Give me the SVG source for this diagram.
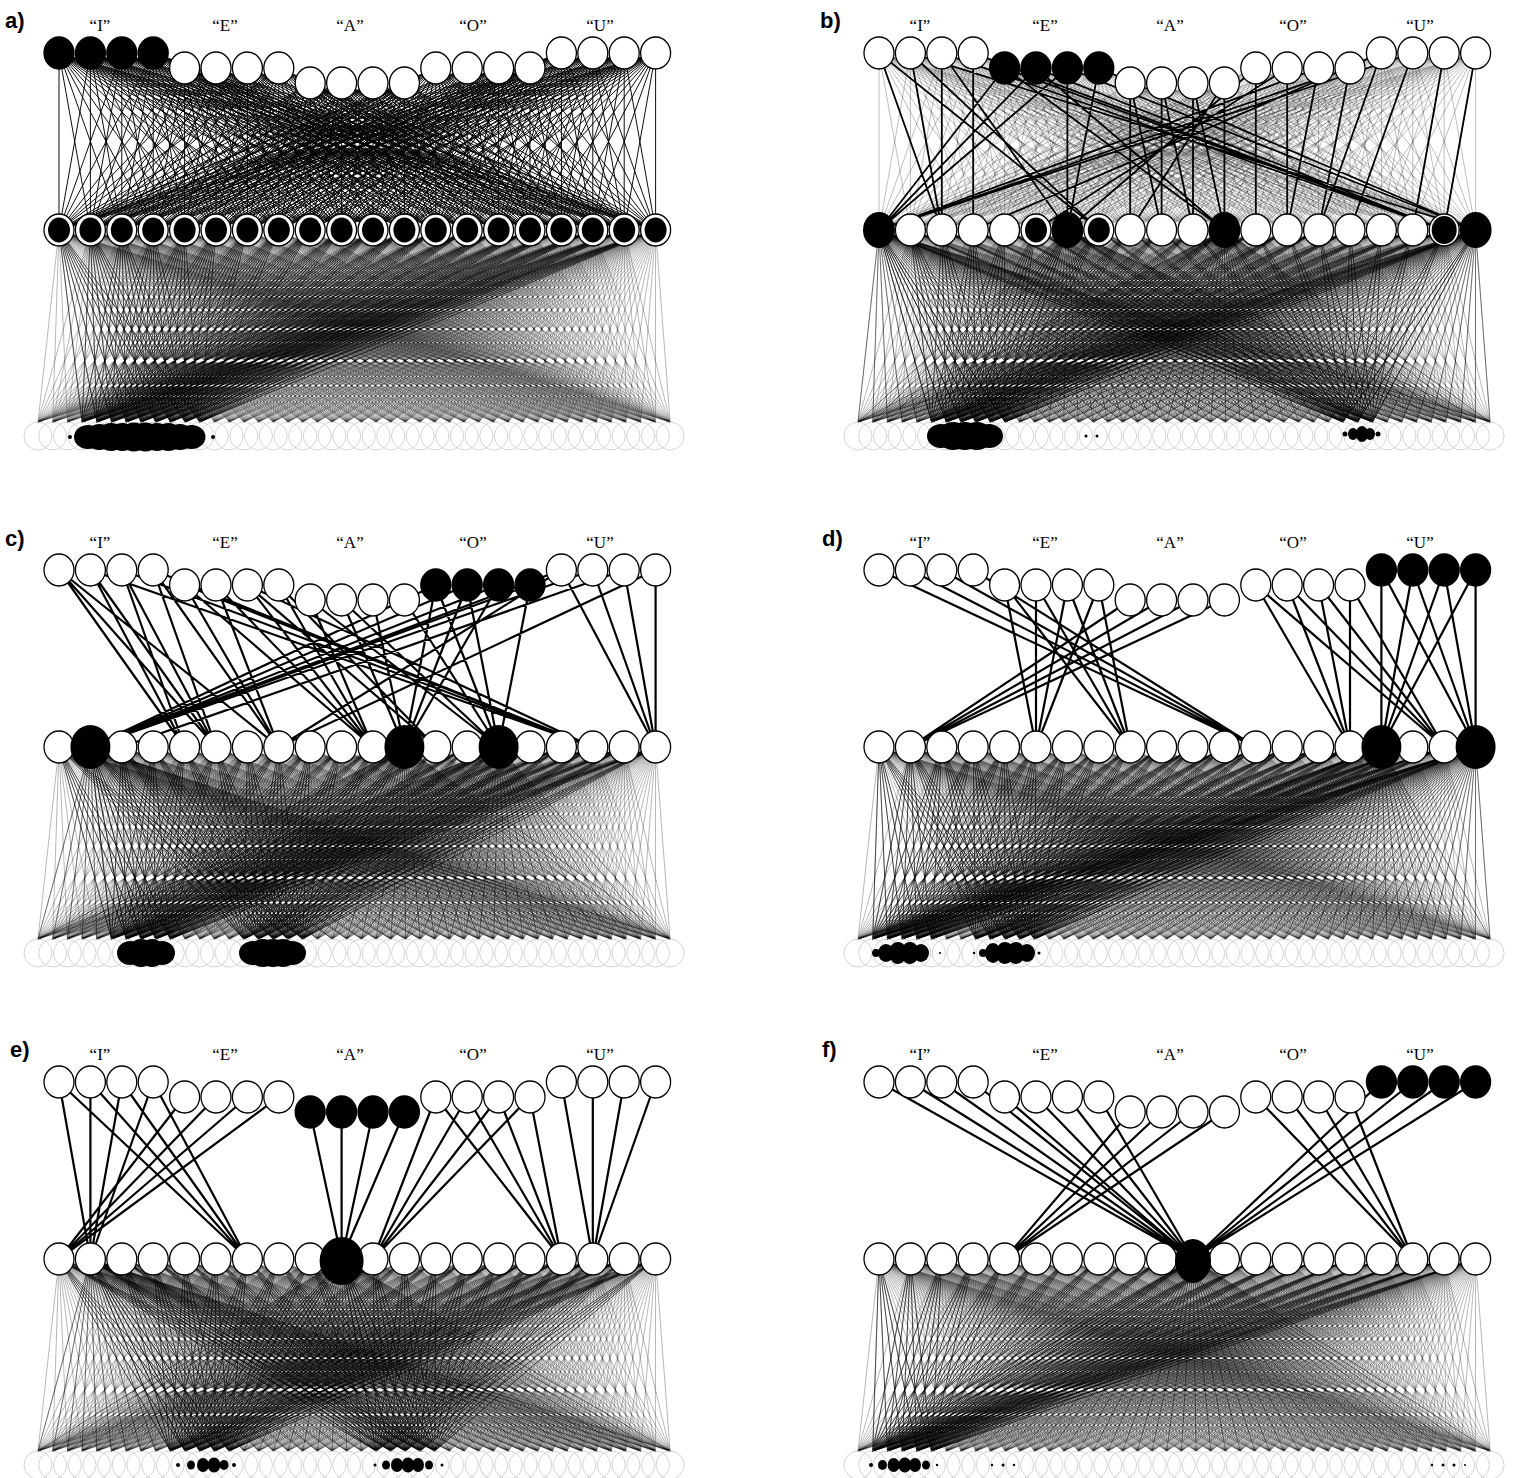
<svg xmlns="http://www.w3.org/2000/svg" width="1516" height="1478" viewBox="0 0 1516 1478">
<style>
.v{fill:none;vector-effect:non-scaling-stroke}
.w{fill:#fff;stroke:#000;stroke-width:1.3px;rx:15px;ry:16px}
.k{fill:#000;stroke:#000;stroke-width:1.3px;rx:15px;ry:16px}
.kb{fill:#000;rx:16px;ry:18px}
.K{fill:#000;rx:20px;ry:22px}
.KE{fill:#000;rx:22px;ry:24px}
.ki{fill:#000;rx:11px;ry:12.5px}
.kr{fill:#000;rx:12.5px;ry:14px}
.o{fill:none;stroke:#c8c8c8;stroke-width:.8px;rx:14px;ry:14px}
.d{fill:#000}
.mg{stroke:#000;stroke-opacity:.38;stroke-width:.75px}
.md{stroke:#000;stroke-opacity:.72;stroke-width:.85px}
.mx{stroke:#000;stroke-opacity:.45;stroke-width:.9px}
.mf{stroke:#000;stroke-opacity:1;stroke-width:.95px}
.ml{stroke:#000;stroke-opacity:.35;stroke-width:.75px}
.th{fill:none;stroke:#000;stroke-width:2.2px;stroke-linecap:round}
.tb{fill:none;stroke:#000;stroke-width:1.8px;stroke-linecap:round}
.q{font-family:"Liberation Serif",serif;font-size:17px;text-anchor:middle}
.p{font-family:"Liberation Sans",sans-serif;font-size:22px;font-weight:bold}
</style>
<defs>
<path id="u" class="v" d="M38 422L59 230M38 422L90.4 230M38 422L121.8 230M38 422L153.2 230M38 422L184.6 230M38 422L216 230M38 422L247.4 230M38 422L278.8 230M38 422L310.2 230M38 422L341.6 230M38 422L373 230M38 422L404.4 230M38 422L435.8 230M38 422L467.2 230M38 422L498.6 230M38 422L530 230M38 422L561.4 230M38 422L592.8 230M38 422L624.2 230M38 422L655.6 230"/>
<path id="t" class="v" d="M59 53L59 230M59 53L90.4 230M59 53L121.8 230M59 53L153.2 230M59 53L184.6 230M59 53L216 230M59 53L247.4 230M59 53L278.8 230M59 53L310.2 230M59 53L341.6 230M59 53L373 230M59 53L404.4 230M59 53L435.8 230M59 53L467.2 230M59 53L498.6 230M59 53L530 230M59 53L561.4 230M59 53L592.8 230M59 53L624.2 230M59 53L655.6 230"/>
<path id="m" class="v" d="M59 230L38 422M59 230L52.7 422M59 230L67.4 422M59 230L82.1 422M59 230L96.8 422M59 230L111.5 422M59 230L126.2 422M59 230L140.9 422M59 230L155.6 422M59 230L170.3 422M59 230L185 422M59 230L199.7 422M59 230L214.4 422M59 230L229.1 422M59 230L243.8 422M59 230L258.5 422M59 230L273.2 422M59 230L287.9 422M59 230L302.6 422M59 230L317.3 422M59 230L332 422M59 230L346.7 422M59 230L361.4 422M59 230L376.1 422M59 230L390.8 422M59 230L405.5 422M59 230L420.2 422M59 230L434.9 422M59 230L449.6 422M59 230L464.3 422M59 230L479 422M59 230L493.7 422M59 230L508.4 422M59 230L523.1 422M59 230L537.8 422M59 230L552.5 422M59 230L567.2 422M59 230L581.9 422M59 230L596.6 422M59 230L611.3 422M59 230L626 422M59 230L640.7 422M59 230L655.4 422M59 230L670.1 422"/>
<g id="MB">
<use id="B0" href="#u"/>
<use id="B1" href="#u" transform="matrix(1 0 .0766 1 -17.61 0)"/>
<use id="B2" href="#u" transform="matrix(1 0 .1531 1 -35.22 0)"/>
<use id="B3" href="#u" transform="matrix(1 0 .2297 1 -52.83 0)"/>
<use id="B4" href="#u" transform="matrix(1 0 .3063 1 -70.44 0)"/>
<use id="B5" href="#u" transform="matrix(1 0 .3828 1 -88.05 0)"/>
<use id="B6" href="#u" transform="matrix(1 0 .4594 1 -105.66 0)"/>
<use id="B7" href="#u" transform="matrix(1 0 .5359 1 -123.27 0)"/>
<use id="B8" href="#u" transform="matrix(1 0 .6125 1 -140.88 0)"/>
<use id="B9" href="#u" transform="matrix(1 0 .6891 1 -158.48 0)"/>
<use id="B10" href="#u" transform="matrix(1 0 .7656 1 -176.09 0)"/>
<use id="B11" href="#u" transform="matrix(1 0 .8422 1 -193.7 0)"/>
<use id="B12" href="#u" transform="matrix(1 0 .9188 1 -211.31 0)"/>
<use id="B13" href="#u" transform="matrix(1 0 .9953 1 -228.92 0)"/>
<use id="B14" href="#u" transform="matrix(1 0 1.0719 1 -246.53 0)"/>
<use id="B15" href="#u" transform="matrix(1 0 1.1484 1 -264.14 0)"/>
<use id="B16" href="#u" transform="matrix(1 0 1.225 1 -281.75 0)"/>
<use id="B17" href="#u" transform="matrix(1 0 1.3016 1 -299.36 0)"/>
<use id="B18" href="#u" transform="matrix(1 0 1.3781 1 -316.97 0)"/>
<use id="B19" href="#u" transform="matrix(1 0 1.4547 1 -334.58 0)"/>
<use id="B20" href="#u" transform="matrix(1 0 1.5313 1 -352.19 0)"/>
<use id="B21" href="#u" transform="matrix(1 0 1.6078 1 -369.8 0)"/>
<use id="B22" href="#u" transform="matrix(1 0 1.6844 1 -387.41 0)"/>
<use id="B23" href="#u" transform="matrix(1 0 1.7609 1 -405.02 0)"/>
<use id="B24" href="#u" transform="matrix(1 0 1.8375 1 -422.63 0)"/>
<use id="B25" href="#u" transform="matrix(1 0 1.9141 1 -440.23 0)"/>
<use id="B26" href="#u" transform="matrix(1 0 1.9906 1 -457.84 0)"/>
<use id="B27" href="#u" transform="matrix(1 0 2.0672 1 -475.45 0)"/>
<use id="B28" href="#u" transform="matrix(1 0 2.1438 1 -493.06 0)"/>
<use id="B29" href="#u" transform="matrix(1 0 2.2203 1 -510.67 0)"/>
<use id="B30" href="#u" transform="matrix(1 0 2.2969 1 -528.28 0)"/>
<use id="B31" href="#u" transform="matrix(1 0 2.3734 1 -545.89 0)"/>
<use id="B32" href="#u" transform="matrix(1 0 2.45 1 -563.5 0)"/>
<use id="B33" href="#u" transform="matrix(1 0 2.5266 1 -581.11 0)"/>
<use id="B34" href="#u" transform="matrix(1 0 2.6031 1 -598.72 0)"/>
<use id="B35" href="#u" transform="matrix(1 0 2.6797 1 -616.33 0)"/>
<use id="B36" href="#u" transform="matrix(1 0 2.7563 1 -633.94 0)"/>
<use id="B37" href="#u" transform="matrix(1 0 2.8328 1 -651.55 0)"/>
<use id="B38" href="#u" transform="matrix(1 0 2.9094 1 -669.16 0)"/>
<use id="B39" href="#u" transform="matrix(1 0 2.9859 1 -686.77 0)"/>
<use id="B40" href="#u" transform="matrix(1 0 3.0625 1 -704.38 0)"/>
<use id="B41" href="#u" transform="matrix(1 0 3.1391 1 -721.98 0)"/>
<use id="B42" href="#u" transform="matrix(1 0 3.2156 1 -739.59 0)"/>
<use id="B43" href="#u" transform="matrix(1 0 3.2922 1 -757.2 0)"/>
</g>
<g id="TM">
<use href="#t"/>
<use href="#t" transform="matrix(1 0 -.1774 1 40.8 0)"/>
<use href="#t" transform="matrix(1 0 -.3548 1 81.6 0)"/>
<use href="#t" transform="matrix(1 0 -.5322 1 122.41 0)"/>
<use href="#t" transform="matrix(1 0 -.7096 .91525 163.21 19.49)"/>
<use href="#t" transform="matrix(1 0 -.887 .91525 204.01 19.49)"/>
<use href="#t" transform="matrix(1 0 -1.0644 .91525 244.81 19.49)"/>
<use href="#t" transform="matrix(1 0 -1.2418 .91525 285.62 19.49)"/>
<use href="#t" transform="matrix(1 0 -1.4192 .83051 326.42 38.98)"/>
<use href="#t" transform="matrix(1 0 -1.5966 .83051 367.22 38.98)"/>
<use href="#t" transform="matrix(1 0 -1.774 .83051 408.02 38.98)"/>
<use href="#t" transform="matrix(1 0 -1.9514 .83051 448.83 38.98)"/>
<use href="#t" transform="matrix(1 0 -2.1288 .91525 489.63 19.49)"/>
<use href="#t" transform="matrix(1 0 -2.3062 .91525 530.43 19.49)"/>
<use href="#t" transform="matrix(1 0 -2.4836 .91525 571.23 19.49)"/>
<use href="#t" transform="matrix(1 0 -2.661 .91525 612.04 19.49)"/>
<use href="#t" transform="matrix(1 0 -2.8384 1 652.84 0)"/>
<use href="#t" transform="matrix(1 0 -3.0158 1 693.64 0)"/>
<use href="#t" transform="matrix(1 0 -3.1932 1 734.44 0)"/>
<use href="#t" transform="matrix(1 0 -3.3706 1 775.24 0)"/>
</g>
<use id="M0" href="#m"/>
<use id="M1" href="#m" transform="matrix(1 0 -.1635 1 69.01 0)"/>
<use id="M6" href="#m" transform="matrix(1 0 -.9813 1 414.08 0)"/>
<use id="M9" href="#m" transform="matrix(1 0 -1.4719 1 621.11 0)"/>
<use id="M10" href="#m" transform="matrix(1 0 -1.6354 1 690.13 0)"/>
<use id="M11" href="#m" transform="matrix(1 0 -1.799 1 759.14 0)"/>
<use id="M14" href="#m" transform="matrix(1 0 -2.2896 1 966.18 0)"/>
<use id="M16" href="#m" transform="matrix(1 0 -2.6167 1 1104.2 0)"/>
<use id="M19" href="#m" transform="matrix(1 0 -3.1073 1 1311.24 0)"/>
<g id="outrow">
<ellipse class="o" cx="38" cy="436"/><ellipse class="o" cx="52.7" cy="436"/><ellipse class="o" cx="67.4" cy="436"/><ellipse class="o" cx="82.1" cy="436"/><ellipse class="o" cx="96.8" cy="436"/><ellipse class="o" cx="111.5" cy="436"/><ellipse class="o" cx="126.2" cy="436"/><ellipse class="o" cx="140.9" cy="436"/><ellipse class="o" cx="155.6" cy="436"/><ellipse class="o" cx="170.3" cy="436"/><ellipse class="o" cx="185" cy="436"/><ellipse class="o" cx="199.7" cy="436"/><ellipse class="o" cx="214.4" cy="436"/><ellipse class="o" cx="229.1" cy="436"/><ellipse class="o" cx="243.8" cy="436"/><ellipse class="o" cx="258.5" cy="436"/><ellipse class="o" cx="273.2" cy="436"/><ellipse class="o" cx="287.9" cy="436"/><ellipse class="o" cx="302.6" cy="436"/><ellipse class="o" cx="317.3" cy="436"/><ellipse class="o" cx="332" cy="436"/><ellipse class="o" cx="346.7" cy="436"/><ellipse class="o" cx="361.4" cy="436"/><ellipse class="o" cx="376.1" cy="436"/><ellipse class="o" cx="390.8" cy="436"/><ellipse class="o" cx="405.5" cy="436"/><ellipse class="o" cx="420.2" cy="436"/><ellipse class="o" cx="434.9" cy="436"/><ellipse class="o" cx="449.6" cy="436"/><ellipse class="o" cx="464.3" cy="436"/><ellipse class="o" cx="479" cy="436"/><ellipse class="o" cx="493.7" cy="436"/><ellipse class="o" cx="508.4" cy="436"/><ellipse class="o" cx="523.1" cy="436"/><ellipse class="o" cx="537.8" cy="436"/><ellipse class="o" cx="552.5" cy="436"/><ellipse class="o" cx="567.2" cy="436"/><ellipse class="o" cx="581.9" cy="436"/><ellipse class="o" cx="596.6" cy="436"/><ellipse class="o" cx="611.3" cy="436"/><ellipse class="o" cx="626" cy="436"/><ellipse class="o" cx="640.7" cy="436"/><ellipse class="o" cx="655.4" cy="436"/><ellipse class="o" cx="670.1" cy="436"/>
</g>
</defs>
<rect width="1516" height="1478" fill="#fff"/>

<!-- ===== Panel a ===== -->
<g id="panel-a">
<g id="a-connectors">
<use href="#MB" class="mg"/>
<g class="md"><use href="#B3"/><use href="#B4"/><use href="#B5"/><use href="#B6"/><use href="#B7"/><use href="#B8"/><use href="#B9"/><use href="#B10"/><use href="#B11"/></g>
<use href="#TM" class="mf"/>
</g>
<g id="a-output"><use href="#outrow"/>
<g class="d"><ellipse cx="70" cy="437" rx="2" ry="2"/><ellipse cx="88" cy="437" rx="14" ry="12"/><ellipse cx="99.5" cy="437" rx="14" ry="13"/><ellipse cx="111" cy="437" rx="14" ry="14"/><ellipse cx="122.5" cy="437" rx="14" ry="14"/><ellipse cx="134" cy="437" rx="14" ry="14.5"/><ellipse cx="145.5" cy="437" rx="14" ry="14.5"/><ellipse cx="157" cy="437" rx="14" ry="14"/><ellipse cx="168.5" cy="437" rx="14" ry="14"/><ellipse cx="180" cy="437" rx="14" ry="13"/><ellipse cx="191.5" cy="437" rx="14" ry="12"/><ellipse cx="213" cy="437" rx="2" ry="2"/></g></g>
<g id="a-h0"><ellipse class="w" cx="59" cy="230"/><ellipse class="ki" cx="59" cy="230"/></g>
<g id="a-h1"><ellipse class="w" cx="90.4" cy="230"/><ellipse class="ki" cx="90.4" cy="230"/></g>
<g id="a-h2"><ellipse class="w" cx="121.8" cy="230"/><ellipse class="ki" cx="121.8" cy="230"/></g>
<g id="a-h3"><ellipse class="w" cx="153.2" cy="230"/><ellipse class="ki" cx="153.2" cy="230"/></g>
<g id="a-h4"><ellipse class="w" cx="184.6" cy="230"/><ellipse class="ki" cx="184.6" cy="230"/></g>
<g id="a-h5"><ellipse class="w" cx="216" cy="230"/><ellipse class="ki" cx="216" cy="230"/></g>
<g id="a-h6"><ellipse class="w" cx="247.4" cy="230"/><ellipse class="ki" cx="247.4" cy="230"/></g>
<g id="a-h7"><ellipse class="w" cx="278.8" cy="230"/><ellipse class="ki" cx="278.8" cy="230"/></g>
<g id="a-h8"><ellipse class="w" cx="310.2" cy="230"/><ellipse class="ki" cx="310.2" cy="230"/></g>
<g id="a-h9"><ellipse class="w" cx="341.6" cy="230"/><ellipse class="ki" cx="341.6" cy="230"/></g>
<g id="a-h10"><ellipse class="w" cx="373" cy="230"/><ellipse class="ki" cx="373" cy="230"/></g>
<g id="a-h11"><ellipse class="w" cx="404.4" cy="230"/><ellipse class="ki" cx="404.4" cy="230"/></g>
<g id="a-h12"><ellipse class="w" cx="435.8" cy="230"/><ellipse class="ki" cx="435.8" cy="230"/></g>
<g id="a-h13"><ellipse class="w" cx="467.2" cy="230"/><ellipse class="ki" cx="467.2" cy="230"/></g>
<g id="a-h14"><ellipse class="w" cx="498.6" cy="230"/><ellipse class="ki" cx="498.6" cy="230"/></g>
<g id="a-h15"><ellipse class="w" cx="530" cy="230"/><ellipse class="ki" cx="530" cy="230"/></g>
<g id="a-h16"><ellipse class="w" cx="561.4" cy="230"/><ellipse class="ki" cx="561.4" cy="230"/></g>
<g id="a-h17"><ellipse class="w" cx="592.8" cy="230"/><ellipse class="ki" cx="592.8" cy="230"/></g>
<g id="a-h18"><ellipse class="w" cx="624.2" cy="230"/><ellipse class="ki" cx="624.2" cy="230"/></g>
<g id="a-h19"><ellipse class="w" cx="655.6" cy="230"/><ellipse class="ki" cx="655.6" cy="230"/></g>
<g id="a-i0"><ellipse class="k" cx="59" cy="53"/></g>
<g id="a-i1"><ellipse class="k" cx="90.4" cy="53"/></g>
<g id="a-i2"><ellipse class="k" cx="121.8" cy="53"/></g>
<g id="a-i3"><ellipse class="k" cx="153.2" cy="53"/></g>
<g id="a-i4"><ellipse class="w" cx="184.6" cy="68"/></g>
<g id="a-i5"><ellipse class="w" cx="216" cy="68"/></g>
<g id="a-i6"><ellipse class="w" cx="247.4" cy="68"/></g>
<g id="a-i7"><ellipse class="w" cx="278.8" cy="68"/></g>
<g id="a-i8"><ellipse class="w" cx="310.2" cy="83"/></g>
<g id="a-i9"><ellipse class="w" cx="341.6" cy="83"/></g>
<g id="a-i10"><ellipse class="w" cx="373" cy="83"/></g>
<g id="a-i11"><ellipse class="w" cx="404.4" cy="83"/></g>
<g id="a-i12"><ellipse class="w" cx="435.8" cy="68"/></g>
<g id="a-i13"><ellipse class="w" cx="467.2" cy="68"/></g>
<g id="a-i14"><ellipse class="w" cx="498.6" cy="68"/></g>
<g id="a-i15"><ellipse class="w" cx="530" cy="68"/></g>
<g id="a-i16"><ellipse class="w" cx="561.4" cy="53"/></g>
<g id="a-i17"><ellipse class="w" cx="592.8" cy="53"/></g>
<g id="a-i18"><ellipse class="w" cx="624.2" cy="53"/></g>
<g id="a-i19"><ellipse class="w" cx="655.6" cy="53"/></g>
<text class="p" x="5" y="28">a)</text>
<text class="q" x="100" y="31">“I”</text><text class="q" x="225" y="31">“E”</text><text class="q" x="350" y="31">“A”</text><text class="q" x="473" y="31">“O”</text><text class="q" x="600" y="31">“U”</text>
</g>

<!-- ===== Panel b ===== -->
<g id="panel-b" transform="translate(820 0)">
<g id="b-connectors">
<use href="#MB" class="mg"/>
<g class="md"><use href="#B5"/><use href="#B6"/><use href="#B7"/><use href="#B8"/><use href="#B9"/><use href="#B10"/><use href="#B33"/><use href="#B34"/><use href="#B35"/></g>
<g class="mx"><use href="#M0"/><use href="#M6"/><use href="#M11"/><use href="#M19"/></g>
<use href="#TM" class="ml"/>
<path class="tb" d="M59 53L121.8 230M59 53L278.8 230M90.4 53L121.8 230M90.4 53L278.8 230M121.8 53L121.8 230M121.8 53L624.2 230M153.2 53L153.2 230M153.2 53L624.2 230M90.4 53L655.6 230M121.8 53L247.4 230M184.6 68L59 230M184.6 68L404.4 230M184.6 68L624.2 230M216 68L59 230M216 68L404.4 230M216 68L624.2 230M247.4 68L247.4 230M247.4 68L655.6 230M247.4 68L59 230M278.8 68L247.4 230M278.8 68L655.6 230M310.2 83L310.2 230M310.2 83L341.6 230M341.6 83L341.6 230M341.6 83L373 230M373 83L373 230M373 83L404.4 230M404.4 83L404.4 230M404.4 83L310.2 230M435.8 68L435.8 230M435.8 68L247.4 230M467.2 68L467.2 230M467.2 68L216 230M498.6 68L467.2 230M498.6 68L59 230M530 68L498.6 230M530 68L59 230M561.4 53L498.6 230M561.4 53L153.2 230M592.8 53L530 230M592.8 53L59 230M624.2 53L592.8 230M655.6 53L624.2 230"/>
</g>
<g id="b-output"><use href="#outrow"/>
<g class="d"><ellipse cx="121" cy="436" rx="14" ry="12"/><ellipse cx="133" cy="436" rx="15" ry="14"/><ellipse cx="145" cy="436" rx="15" ry="14"/><ellipse cx="157" cy="436" rx="15" ry="14"/><ellipse cx="169" cy="436" rx="14" ry="12"/><ellipse cx="266" cy="436" rx="1.5" ry="1.5"/><ellipse cx="277" cy="436" rx="1.5" ry="1.5"/><ellipse cx="525" cy="434" rx="2.5" ry="2.5"/><ellipse cx="533" cy="434" rx="5" ry="6"/><ellipse cx="542" cy="434" rx="6" ry="8"/><ellipse cx="550" cy="434" rx="5" ry="6"/><ellipse cx="558" cy="434" rx="2.5" ry="2.5"/></g></g>
<g id="b-h1"><ellipse class="w" cx="90.4" cy="230"/></g>
<g id="b-h2"><ellipse class="w" cx="121.8" cy="230"/></g>
<g id="b-h3"><ellipse class="w" cx="153.2" cy="230"/></g>
<g id="b-h4"><ellipse class="w" cx="184.6" cy="230"/></g>
<g id="b-h5"><ellipse class="w" cx="216" cy="230"/><ellipse class="ki" cx="216" cy="230"/></g>
<g id="b-h7"><ellipse class="w" cx="278.8" cy="230"/><ellipse class="ki" cx="278.8" cy="230"/></g>
<g id="b-h8"><ellipse class="w" cx="310.2" cy="230"/></g>
<g id="b-h9"><ellipse class="w" cx="341.6" cy="230"/></g>
<g id="b-h10"><ellipse class="w" cx="373" cy="230"/></g>
<g id="b-h12"><ellipse class="w" cx="435.8" cy="230"/></g>
<g id="b-h13"><ellipse class="w" cx="467.2" cy="230"/></g>
<g id="b-h14"><ellipse class="w" cx="498.6" cy="230"/></g>
<g id="b-h15"><ellipse class="w" cx="530" cy="230"/></g>
<g id="b-h16"><ellipse class="w" cx="561.4" cy="230"/></g>
<g id="b-h17"><ellipse class="w" cx="592.8" cy="230"/></g>
<g id="b-h18"><ellipse class="w" cx="624.2" cy="230"/><ellipse class="kr" cx="624.2" cy="230"/></g>
<g id="b-h0"><ellipse class="kb" cx="59" cy="230"/></g>
<g id="b-h6"><ellipse class="kb" cx="247.4" cy="230"/></g>
<g id="b-h11"><ellipse class="kb" cx="404.4" cy="230"/></g>
<g id="b-h19"><ellipse class="kb" cx="655.6" cy="230"/></g>
<g id="b-i0"><ellipse class="w" cx="59" cy="53"/></g>
<g id="b-i1"><ellipse class="w" cx="90.4" cy="53"/></g>
<g id="b-i2"><ellipse class="w" cx="121.8" cy="53"/></g>
<g id="b-i3"><ellipse class="w" cx="153.2" cy="53"/></g>
<g id="b-i4"><ellipse class="k" cx="184.6" cy="68"/></g>
<g id="b-i5"><ellipse class="k" cx="216" cy="68"/></g>
<g id="b-i6"><ellipse class="k" cx="247.4" cy="68"/></g>
<g id="b-i7"><ellipse class="k" cx="278.8" cy="68"/></g>
<g id="b-i8"><ellipse class="w" cx="310.2" cy="83"/></g>
<g id="b-i9"><ellipse class="w" cx="341.6" cy="83"/></g>
<g id="b-i10"><ellipse class="w" cx="373" cy="83"/></g>
<g id="b-i11"><ellipse class="w" cx="404.4" cy="83"/></g>
<g id="b-i12"><ellipse class="w" cx="435.8" cy="68"/></g>
<g id="b-i13"><ellipse class="w" cx="467.2" cy="68"/></g>
<g id="b-i14"><ellipse class="w" cx="498.6" cy="68"/></g>
<g id="b-i15"><ellipse class="w" cx="530" cy="68"/></g>
<g id="b-i16"><ellipse class="w" cx="561.4" cy="53"/></g>
<g id="b-i17"><ellipse class="w" cx="592.8" cy="53"/></g>
<g id="b-i18"><ellipse class="w" cx="624.2" cy="53"/></g>
<g id="b-i19"><ellipse class="w" cx="655.6" cy="53"/></g>
<text class="p" x="0" y="28">b)</text>
<text class="q" x="100" y="31">“I”</text><text class="q" x="225" y="31">“E”</text><text class="q" x="350" y="31">“A”</text><text class="q" x="473" y="31">“O”</text><text class="q" x="600" y="31">“U”</text>
</g>

<!-- ===== Panel c ===== -->
<g id="panel-c" transform="translate(0 517)">
<g id="c-connectors">
<use href="#MB" class="mg"/>
<g class="md"><use href="#B5"/><use href="#B6"/><use href="#B7"/><use href="#B8"/><use href="#B9"/><use href="#B14"/><use href="#B15"/><use href="#B16"/><use href="#B17"/><use href="#B18"/></g>
<g class="mx"><use href="#M1"/><use href="#M11"/><use href="#M14"/></g>
<path class="th" d="M59 53L184.6 230M59 53L216 230M59 53L278.8 230M90.4 53L184.6 230M90.4 53L216 230M90.4 53L592.8 230M121.8 53L184.6 230M121.8 53L216 230M121.8 53L592.8 230M153.2 53L216 230M153.2 53L278.8 230M153.2 53L592.8 230M184.6 68L278.8 230M184.6 68L373 230M184.6 68L592.8 230M216 68L278.8 230M216 68L373 230M247.4 68L373 230M247.4 68L435.8 230M247.4 68L592.8 230M278.8 68L373 230M278.8 68L435.8 230M310.2 83L373 230M310.2 83L498.6 230M341.6 83L404.4 230M341.6 83L498.6 230M373 83L404.4 230M404.4 83L498.6 230M435.8 68L90.4 230M435.8 68L404.4 230M435.8 68L498.6 230M467.2 68L90.4 230M467.2 68L404.4 230M467.2 68L498.6 230M498.6 68L90.4 230M498.6 68L404.4 230M530 68L90.4 230M530 68L498.6 230M561.4 53L90.4 230M561.4 53L278.8 230M561.4 53L655.6 230M592.8 53L90.4 230M592.8 53L655.6 230M624.2 53L121.8 230M624.2 53L655.6 230M655.6 53L655.6 230M655.6 53L278.8 230"/>
</g>
<g id="c-output"><use href="#outrow"/>
<g class="d"><ellipse cx="130" cy="436" rx="13" ry="12"/><ellipse cx="141" cy="436" rx="13" ry="14"/><ellipse cx="152" cy="436" rx="13" ry="14"/><ellipse cx="162" cy="436" rx="13" ry="12"/><ellipse cx="253" cy="436" rx="14" ry="12"/><ellipse cx="263" cy="436" rx="14" ry="14"/><ellipse cx="273" cy="436" rx="14" ry="14"/><ellipse cx="283" cy="436" rx="14" ry="14"/><ellipse cx="292" cy="436" rx="14" ry="12"/></g></g>
<g id="c-h0"><ellipse class="w" cx="59" cy="230"/></g>
<g id="c-h2"><ellipse class="w" cx="121.8" cy="230"/></g>
<g id="c-h3"><ellipse class="w" cx="153.2" cy="230"/></g>
<g id="c-h4"><ellipse class="w" cx="184.6" cy="230"/></g>
<g id="c-h5"><ellipse class="w" cx="216" cy="230"/></g>
<g id="c-h6"><ellipse class="w" cx="247.4" cy="230"/></g>
<g id="c-h7"><ellipse class="w" cx="278.8" cy="230"/></g>
<g id="c-h8"><ellipse class="w" cx="310.2" cy="230"/></g>
<g id="c-h9"><ellipse class="w" cx="341.6" cy="230"/></g>
<g id="c-h10"><ellipse class="w" cx="373" cy="230"/></g>
<g id="c-h12"><ellipse class="w" cx="435.8" cy="230"/></g>
<g id="c-h13"><ellipse class="w" cx="467.2" cy="230"/></g>
<g id="c-h15"><ellipse class="w" cx="530" cy="230"/></g>
<g id="c-h16"><ellipse class="w" cx="561.4" cy="230"/></g>
<g id="c-h17"><ellipse class="w" cx="592.8" cy="230"/></g>
<g id="c-h18"><ellipse class="w" cx="624.2" cy="230"/></g>
<g id="c-h19"><ellipse class="w" cx="655.6" cy="230"/></g>
<g id="c-h1"><ellipse class="K" cx="90.4" cy="230"/></g>
<g id="c-h11"><ellipse class="K" cx="404.4" cy="230"/></g>
<g id="c-h14"><ellipse class="K" cx="498.6" cy="230"/></g>
<g id="c-i0"><ellipse class="w" cx="59" cy="53"/></g>
<g id="c-i1"><ellipse class="w" cx="90.4" cy="53"/></g>
<g id="c-i2"><ellipse class="w" cx="121.8" cy="53"/></g>
<g id="c-i3"><ellipse class="w" cx="153.2" cy="53"/></g>
<g id="c-i4"><ellipse class="w" cx="184.6" cy="68"/></g>
<g id="c-i5"><ellipse class="w" cx="216" cy="68"/></g>
<g id="c-i6"><ellipse class="w" cx="247.4" cy="68"/></g>
<g id="c-i7"><ellipse class="w" cx="278.8" cy="68"/></g>
<g id="c-i8"><ellipse class="w" cx="310.2" cy="83"/></g>
<g id="c-i9"><ellipse class="w" cx="341.6" cy="83"/></g>
<g id="c-i10"><ellipse class="w" cx="373" cy="83"/></g>
<g id="c-i11"><ellipse class="w" cx="404.4" cy="83"/></g>
<g id="c-i12"><ellipse class="k" cx="435.8" cy="68"/></g>
<g id="c-i13"><ellipse class="k" cx="467.2" cy="68"/></g>
<g id="c-i14"><ellipse class="k" cx="498.6" cy="68"/></g>
<g id="c-i15"><ellipse class="k" cx="530" cy="68"/></g>
<g id="c-i16"><ellipse class="w" cx="561.4" cy="53"/></g>
<g id="c-i17"><ellipse class="w" cx="592.8" cy="53"/></g>
<g id="c-i18"><ellipse class="w" cx="624.2" cy="53"/></g>
<g id="c-i19"><ellipse class="w" cx="655.6" cy="53"/></g>
<text class="p" x="5" y="29">c)</text>
<text class="q" x="100" y="31">“I”</text><text class="q" x="225" y="31">“E”</text><text class="q" x="350" y="31">“A”</text><text class="q" x="473" y="31">“O”</text><text class="q" x="600" y="31">“U”</text>
</g>

<!-- ===== Panel d ===== -->
<g id="panel-d" transform="translate(820 517)">
<g id="d-connectors">
<use href="#MB" class="mg"/>
<g class="md"><use href="#B1"/><use href="#B2"/><use href="#B3"/><use href="#B4"/><use href="#B5"/><use href="#B8"/><use href="#B9"/><use href="#B10"/><use href="#B11"/><use href="#B12"/></g>
<g class="mx"><use href="#M16"/><use href="#M19"/></g>
<path class="th" d="M59 53L435.8 230M90.4 53L435.8 230M121.8 53L435.8 230M153.2 53L435.8 230M184.6 68L216 230M216 68L216 230M247.4 68L216 230M278.8 68L216 230M184.6 68L310.2 230M216 68L310.2 230M247.4 68L310.2 230M278.8 68L310.2 230M310.2 83L90.4 230M341.6 83L90.4 230M373 83L90.4 230M404.4 83L90.4 230M435.8 68L530 230M467.2 68L530 230M498.6 68L530 230M530 68L530 230M435.8 68L624.2 230M467.2 68L624.2 230M498.6 68L624.2 230M530 68L624.2 230M561.4 53L561.4 230M592.8 53L561.4 230M624.2 53L561.4 230M655.6 53L561.4 230M561.4 53L655.6 230M592.8 53L655.6 230M624.2 53L655.6 230M655.6 53L655.6 230"/>
</g>
<g id="d-output"><use href="#outrow"/>
<g class="d"><ellipse cx="56" cy="436" rx="4" ry="4"/><ellipse cx="66" cy="436" rx="8" ry="9"/><ellipse cx="78" cy="436" rx="9" ry="11"/><ellipse cx="90" cy="436" rx="9" ry="11"/><ellipse cx="101" cy="436" rx="8" ry="9"/><ellipse cx="120" cy="436" rx="1" ry="1"/><ellipse cx="154" cy="436" rx="1.2" ry="1.2"/><ellipse cx="163" cy="436" rx="4" ry="4"/><ellipse cx="173" cy="436" rx="8" ry="10"/><ellipse cx="185" cy="436" rx="9" ry="11"/><ellipse cx="196" cy="436" rx="9" ry="11"/><ellipse cx="207" cy="436" rx="8" ry="9"/><ellipse cx="219" cy="436" rx="1.5" ry="1.5"/></g></g>
<g id="d-h0"><ellipse class="w" cx="59" cy="230"/></g>
<g id="d-h1"><ellipse class="w" cx="90.4" cy="230"/></g>
<g id="d-h2"><ellipse class="w" cx="121.8" cy="230"/></g>
<g id="d-h3"><ellipse class="w" cx="153.2" cy="230"/></g>
<g id="d-h4"><ellipse class="w" cx="184.6" cy="230"/></g>
<g id="d-h5"><ellipse class="w" cx="216" cy="230"/></g>
<g id="d-h6"><ellipse class="w" cx="247.4" cy="230"/></g>
<g id="d-h7"><ellipse class="w" cx="278.8" cy="230"/></g>
<g id="d-h8"><ellipse class="w" cx="310.2" cy="230"/></g>
<g id="d-h9"><ellipse class="w" cx="341.6" cy="230"/></g>
<g id="d-h10"><ellipse class="w" cx="373" cy="230"/></g>
<g id="d-h11"><ellipse class="w" cx="404.4" cy="230"/></g>
<g id="d-h12"><ellipse class="w" cx="435.8" cy="230"/></g>
<g id="d-h13"><ellipse class="w" cx="467.2" cy="230"/></g>
<g id="d-h14"><ellipse class="w" cx="498.6" cy="230"/></g>
<g id="d-h15"><ellipse class="w" cx="530" cy="230"/></g>
<g id="d-h17"><ellipse class="w" cx="592.8" cy="230"/></g>
<g id="d-h18"><ellipse class="w" cx="624.2" cy="230"/></g>
<g id="d-h16"><ellipse class="K" cx="561.4" cy="230"/></g>
<g id="d-h19"><ellipse class="K" cx="655.6" cy="230"/></g>
<g id="d-i0"><ellipse class="w" cx="59" cy="53"/></g>
<g id="d-i1"><ellipse class="w" cx="90.4" cy="53"/></g>
<g id="d-i2"><ellipse class="w" cx="121.8" cy="53"/></g>
<g id="d-i3"><ellipse class="w" cx="153.2" cy="53"/></g>
<g id="d-i4"><ellipse class="w" cx="184.6" cy="68"/></g>
<g id="d-i5"><ellipse class="w" cx="216" cy="68"/></g>
<g id="d-i6"><ellipse class="w" cx="247.4" cy="68"/></g>
<g id="d-i7"><ellipse class="w" cx="278.8" cy="68"/></g>
<g id="d-i8"><ellipse class="w" cx="310.2" cy="83"/></g>
<g id="d-i9"><ellipse class="w" cx="341.6" cy="83"/></g>
<g id="d-i10"><ellipse class="w" cx="373" cy="83"/></g>
<g id="d-i11"><ellipse class="w" cx="404.4" cy="83"/></g>
<g id="d-i12"><ellipse class="w" cx="435.8" cy="68"/></g>
<g id="d-i13"><ellipse class="w" cx="467.2" cy="68"/></g>
<g id="d-i14"><ellipse class="w" cx="498.6" cy="68"/></g>
<g id="d-i15"><ellipse class="w" cx="530" cy="68"/></g>
<g id="d-i16"><ellipse class="k" cx="561.4" cy="53"/></g>
<g id="d-i17"><ellipse class="k" cx="592.8" cy="53"/></g>
<g id="d-i18"><ellipse class="k" cx="624.2" cy="53"/></g>
<g id="d-i19"><ellipse class="k" cx="655.6" cy="53"/></g>
<text class="p" x="2" y="29">d)</text>
<text class="q" x="100" y="31">“I”</text><text class="q" x="225" y="31">“E”</text><text class="q" x="350" y="31">“A”</text><text class="q" x="473" y="31">“O”</text><text class="q" x="600" y="31">“U”</text>
</g>

<!-- ===== Panel e ===== -->
<g id="panel-e" transform="translate(0 1029)">
<g id="e-connectors">
<use href="#MB" class="mg"/>
<g class="md"><use href="#B9"/><use href="#B10"/><use href="#B11"/><use href="#B12"/><use href="#B13"/><use href="#B23"/><use href="#B24"/><use href="#B25"/><use href="#B26"/><use href="#B27"/></g>
<g class="mx"><use href="#M9"/><use href="#M1"/></g>
<path class="th" d="M59 53L90.4 230M90.4 53L90.4 230M121.8 53L90.4 230M153.2 53L90.4 230M59 53L247.4 230M90.4 53L247.4 230M121.8 53L247.4 230M153.2 53L247.4 230M184.6 68L59 230M216 68L59 230M247.4 68L59 230M278.8 68L59 230M310.2 83L341.6 230M341.6 83L341.6 230M373 83L341.6 230M404.4 83L341.6 230M435.8 68L373 230M467.2 68L373 230M498.6 68L373 230M530 68L373 230M435.8 68L561.4 230M467.2 68L561.4 230M498.6 68L561.4 230M530 68L561.4 230M561.4 53L592.8 230M592.8 53L592.8 230M624.2 53L592.8 230M655.6 53L592.8 230"/>
</g>
<g id="e-output"><use href="#outrow"/>
<g class="d"><ellipse cx="178" cy="436" rx="2" ry="2"/><ellipse cx="191" cy="436" rx="4" ry="4.5"/><ellipse cx="203" cy="436" rx="6" ry="7"/><ellipse cx="214" cy="436" rx="6.5" ry="7.5"/><ellipse cx="224" cy="436" rx="4.5" ry="5"/><ellipse cx="234" cy="436" rx="2" ry="2"/><ellipse cx="375" cy="436" rx="1.5" ry="1.5"/><ellipse cx="386" cy="436" rx="4" ry="4.5"/><ellipse cx="397" cy="436" rx="6" ry="7"/><ellipse cx="408" cy="436" rx="6.5" ry="7.5"/><ellipse cx="418" cy="436" rx="6" ry="7"/><ellipse cx="429" cy="436" rx="4" ry="4.5"/><ellipse cx="442" cy="436" rx="1.5" ry="1.5"/></g></g>
<g id="e-h0"><ellipse class="w" cx="59" cy="230"/></g>
<g id="e-h1"><ellipse class="w" cx="90.4" cy="230"/></g>
<g id="e-h2"><ellipse class="w" cx="121.8" cy="230"/></g>
<g id="e-h3"><ellipse class="w" cx="153.2" cy="230"/></g>
<g id="e-h4"><ellipse class="w" cx="184.6" cy="230"/></g>
<g id="e-h5"><ellipse class="w" cx="216" cy="230"/></g>
<g id="e-h6"><ellipse class="w" cx="247.4" cy="230"/></g>
<g id="e-h7"><ellipse class="w" cx="278.8" cy="230"/></g>
<g id="e-h8"><ellipse class="w" cx="310.2" cy="230"/></g>
<g id="e-h10"><ellipse class="w" cx="373" cy="230"/></g>
<g id="e-h11"><ellipse class="w" cx="404.4" cy="230"/></g>
<g id="e-h12"><ellipse class="w" cx="435.8" cy="230"/></g>
<g id="e-h13"><ellipse class="w" cx="467.2" cy="230"/></g>
<g id="e-h14"><ellipse class="w" cx="498.6" cy="230"/></g>
<g id="e-h15"><ellipse class="w" cx="530" cy="230"/></g>
<g id="e-h16"><ellipse class="w" cx="561.4" cy="230"/></g>
<g id="e-h17"><ellipse class="w" cx="592.8" cy="230"/></g>
<g id="e-h18"><ellipse class="w" cx="624.2" cy="230"/></g>
<g id="e-h19"><ellipse class="w" cx="655.6" cy="230"/></g>
<g id="e-h9"><ellipse class="KE" cx="341.6" cy="232"/></g>
<g id="e-i0"><ellipse class="w" cx="59" cy="53"/></g>
<g id="e-i1"><ellipse class="w" cx="90.4" cy="53"/></g>
<g id="e-i2"><ellipse class="w" cx="121.8" cy="53"/></g>
<g id="e-i3"><ellipse class="w" cx="153.2" cy="53"/></g>
<g id="e-i4"><ellipse class="w" cx="184.6" cy="68"/></g>
<g id="e-i5"><ellipse class="w" cx="216" cy="68"/></g>
<g id="e-i6"><ellipse class="w" cx="247.4" cy="68"/></g>
<g id="e-i7"><ellipse class="w" cx="278.8" cy="68"/></g>
<g id="e-i8"><ellipse class="k" cx="310.2" cy="83"/></g>
<g id="e-i9"><ellipse class="k" cx="341.6" cy="83"/></g>
<g id="e-i10"><ellipse class="k" cx="373" cy="83"/></g>
<g id="e-i11"><ellipse class="k" cx="404.4" cy="83"/></g>
<g id="e-i12"><ellipse class="w" cx="435.8" cy="68"/></g>
<g id="e-i13"><ellipse class="w" cx="467.2" cy="68"/></g>
<g id="e-i14"><ellipse class="w" cx="498.6" cy="68"/></g>
<g id="e-i15"><ellipse class="w" cx="530" cy="68"/></g>
<g id="e-i16"><ellipse class="w" cx="561.4" cy="53"/></g>
<g id="e-i17"><ellipse class="w" cx="592.8" cy="53"/></g>
<g id="e-i18"><ellipse class="w" cx="624.2" cy="53"/></g>
<g id="e-i19"><ellipse class="w" cx="655.6" cy="53"/></g>
<text class="p" x="10" y="28">e)</text>
<text class="q" x="100" y="31">“I”</text><text class="q" x="225" y="31">“E”</text><text class="q" x="350" y="31">“A”</text><text class="q" x="473" y="31">“O”</text><text class="q" x="600" y="31">“U”</text>
</g>

<!-- ===== Panel f ===== -->
<g id="panel-f" transform="translate(820 1029)">
<g id="f-connectors">
<use href="#MB" class="mg"/>
<g class="md"><use href="#B1"/><use href="#B2"/><use href="#B3"/><use href="#B4"/><use href="#B5"/></g>
<g class="mx"><use href="#M10"/></g>
<path class="th" d="M59 53L373 230M90.4 53L373 230M121.8 53L373 230M153.2 53L373 230M184.6 68L373 230M216 68L373 230M247.4 68L373 230M278.8 68L373 230M310.2 83L184.6 230M341.6 83L184.6 230M373 83L184.6 230M404.4 83L184.6 230M435.8 68L592.8 230M467.2 68L592.8 230M498.6 68L592.8 230M530 68L592.8 230M561.4 53L373 230M592.8 53L373 230M624.2 53L373 230M655.6 53L373 230"/>
</g>
<g id="f-output"><use href="#outrow"/>
<g class="d"><ellipse cx="51" cy="436" rx="2" ry="2"/><ellipse cx="62.5" cy="436" rx="4.5" ry="5"/><ellipse cx="73.7" cy="436" rx="6" ry="7"/><ellipse cx="84.8" cy="436" rx="6.5" ry="7.5"/><ellipse cx="95" cy="436" rx="6" ry="7"/><ellipse cx="106" cy="436" rx="4" ry="4.5"/><ellipse cx="117" cy="436" rx="1.2" ry="1.2"/><ellipse cx="172" cy="436" rx="1.2" ry="1.2"/><ellipse cx="183" cy="436" rx="1.5" ry="1.5"/><ellipse cx="194" cy="436" rx="1.2" ry="1.2"/><ellipse cx="612" cy="436" rx="1.2" ry="1.2"/><ellipse cx="623" cy="436" rx="1.5" ry="1.5"/><ellipse cx="634" cy="436" rx="1.5" ry="1.5"/><ellipse cx="645" cy="436" rx="1" ry="1"/></g></g>
<g id="f-h0"><ellipse class="w" cx="59" cy="230"/></g>
<g id="f-h1"><ellipse class="w" cx="90.4" cy="230"/></g>
<g id="f-h2"><ellipse class="w" cx="121.8" cy="230"/></g>
<g id="f-h3"><ellipse class="w" cx="153.2" cy="230"/></g>
<g id="f-h4"><ellipse class="w" cx="184.6" cy="230"/></g>
<g id="f-h5"><ellipse class="w" cx="216" cy="230"/></g>
<g id="f-h6"><ellipse class="w" cx="247.4" cy="230"/></g>
<g id="f-h7"><ellipse class="w" cx="278.8" cy="230"/></g>
<g id="f-h8"><ellipse class="w" cx="310.2" cy="230"/></g>
<g id="f-h9"><ellipse class="w" cx="341.6" cy="230"/></g>
<g id="f-h11"><ellipse class="w" cx="404.4" cy="230"/></g>
<g id="f-h12"><ellipse class="w" cx="435.8" cy="230"/></g>
<g id="f-h13"><ellipse class="w" cx="467.2" cy="230"/></g>
<g id="f-h14"><ellipse class="w" cx="498.6" cy="230"/></g>
<g id="f-h15"><ellipse class="w" cx="530" cy="230"/></g>
<g id="f-h16"><ellipse class="w" cx="561.4" cy="230"/></g>
<g id="f-h17"><ellipse class="w" cx="592.8" cy="230"/></g>
<g id="f-h18"><ellipse class="w" cx="624.2" cy="230"/></g>
<g id="f-h19"><ellipse class="w" cx="655.6" cy="230"/></g>
<g id="f-h10"><ellipse class="K" cx="373" cy="232" style="rx:18px"/></g>
<g id="f-i0"><ellipse class="w" cx="59" cy="53"/></g>
<g id="f-i1"><ellipse class="w" cx="90.4" cy="53"/></g>
<g id="f-i2"><ellipse class="w" cx="121.8" cy="53"/></g>
<g id="f-i3"><ellipse class="w" cx="153.2" cy="53"/></g>
<g id="f-i4"><ellipse class="w" cx="184.6" cy="68"/></g>
<g id="f-i5"><ellipse class="w" cx="216" cy="68"/></g>
<g id="f-i6"><ellipse class="w" cx="247.4" cy="68"/></g>
<g id="f-i7"><ellipse class="w" cx="278.8" cy="68"/></g>
<g id="f-i8"><ellipse class="w" cx="310.2" cy="83"/></g>
<g id="f-i9"><ellipse class="w" cx="341.6" cy="83"/></g>
<g id="f-i10"><ellipse class="w" cx="373" cy="83"/></g>
<g id="f-i11"><ellipse class="w" cx="404.4" cy="83"/></g>
<g id="f-i12"><ellipse class="w" cx="435.8" cy="68"/></g>
<g id="f-i13"><ellipse class="w" cx="467.2" cy="68"/></g>
<g id="f-i14"><ellipse class="w" cx="498.6" cy="68"/></g>
<g id="f-i15"><ellipse class="w" cx="530" cy="68"/></g>
<g id="f-i16"><ellipse class="k" cx="561.4" cy="53"/></g>
<g id="f-i17"><ellipse class="k" cx="592.8" cy="53"/></g>
<g id="f-i18"><ellipse class="k" cx="624.2" cy="53"/></g>
<g id="f-i19"><ellipse class="k" cx="655.6" cy="53"/></g>
<text class="p" x="2" y="28">f)</text>
<text class="q" x="100" y="31">“I”</text><text class="q" x="225" y="31">“E”</text><text class="q" x="350" y="31">“A”</text><text class="q" x="473" y="31">“O”</text><text class="q" x="600" y="31">“U”</text>
</g>
</svg>
